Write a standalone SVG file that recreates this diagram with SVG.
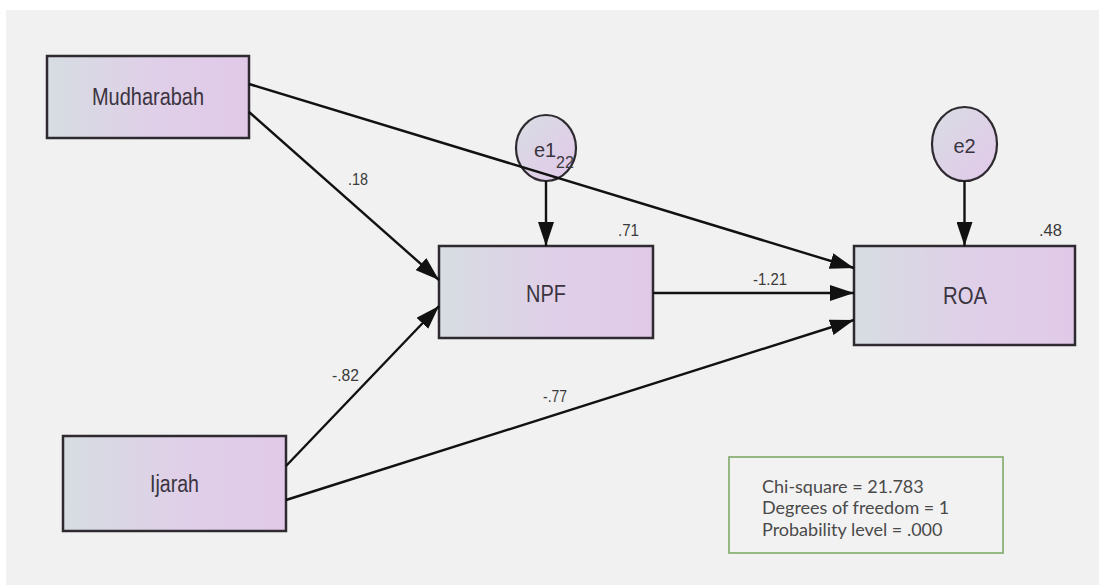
<svg xmlns="http://www.w3.org/2000/svg" width="1099" height="585" viewBox="0 0 1099 585">
  <style>
    .box { stroke: #2e2a30; stroke-width: 2.5; }
    .oval { stroke: #2e2a30; stroke-width: 2.2; }
    .lbl { font-family: "Liberation Sans", Arial, sans-serif; font-size: 23px; fill: #3a3440; }
    .coef { font-family: "Liberation Sans", Arial, sans-serif; font-size: 16px; fill: #3a3a3a; }
    .err { font-family: "Liberation Sans", Arial, sans-serif; font-size: 20px; fill: #3a3440; }
    .stat { font-family: Lato, "Open Sans", sans-serif; font-size: 18px; fill: #4a4a4a; }
    .edge { stroke: #111; stroke-width: 2.4; fill: none; marker-end: url(#head); }
  </style>
  <defs>
    <linearGradient id="boxFill" x1="0" y1="0" x2="1" y2="0">
      <stop offset="0" stop-color="#d6dde2"/>
      <stop offset="0.55" stop-color="#e0cfe8"/>
      <stop offset="1" stop-color="#e0c9e8"/>
    </linearGradient>
    <linearGradient id="ovalFill" x1="0" y1="0" x2="1" y2="1">
      <stop offset="0" stop-color="#d8dde3"/>
      <stop offset="1" stop-color="#e2c8ea"/>
    </linearGradient>
    <marker id="head" markerUnits="userSpaceOnUse" markerWidth="24" markerHeight="16" refX="24" refY="8" orient="auto">
      <path d="M0,0 L24,8 L0,16 z" fill="#111"/>
    </marker>
  </defs>

  <!-- canvas -->
  <rect x="6" y="10" width="1093" height="575" fill="#f1f1f1"/>

  <!-- observed variables -->
  <g id="mudharabah">
    <rect class="box" x="47" y="56" width="202" height="82" fill="url(#boxFill)"/>
    <text class="lbl" x="148" y="105" text-anchor="middle" textLength="112" lengthAdjust="spacingAndGlyphs">Mudharabah</text>
  </g>
  <g id="ijarah">
    <rect class="box" x="63" y="436" width="223" height="95" fill="url(#boxFill)"/>
    <text class="lbl" x="174.5" y="492" text-anchor="middle" textLength="49" lengthAdjust="spacingAndGlyphs">Ijarah</text>
  </g>
  <g id="npf">
    <rect class="box" x="439" y="246" width="214" height="92" fill="url(#boxFill)"/>
    <text class="lbl" x="546" y="302" text-anchor="middle" textLength="40" lengthAdjust="spacingAndGlyphs">NPF</text>
    <text class="coef" x="618" y="236" textLength="21" lengthAdjust="spacingAndGlyphs">.71</text>
  </g>
  <g id="roa">
    <rect class="box" x="854" y="246" width="221" height="99" fill="url(#boxFill)"/>
    <text class="lbl" x="965" y="304" text-anchor="middle" textLength="44" lengthAdjust="spacingAndGlyphs">ROA</text>
    <text class="coef" x="1039" y="236" textLength="23" lengthAdjust="spacingAndGlyphs">.48</text>
  </g>

  <!-- error terms -->
  <g id="e1">
    <ellipse class="oval" cx="546" cy="148" rx="30" ry="33" fill="url(#ovalFill)"/>
    <text class="err" x="534" y="157">e1</text>
    <text class="coef" x="556" y="168" font-size="15" fill="#5a4a66">22</text>
  </g>
  <g id="e2">
    <ellipse class="oval" cx="964.5" cy="144" rx="32.5" ry="37" fill="url(#ovalFill)"/>
    <text class="err" x="964.5" y="153" text-anchor="middle">e2</text>
  </g>

  <!-- fit statistics -->
  <g id="fit">
    <rect x="729" y="457" width="274" height="96" fill="#f2f2f3" stroke="#7fa96a" stroke-width="1.6"/>
    <text class="stat" x="762" y="493">Chi-square = 21.783</text>
    <text class="stat" x="762" y="514">Degrees of freedom = 1</text>
    <text class="stat" x="762" y="536">Probability level = .000</text>
  </g>

  <!-- paths -->
  <g id="connectors">
    <line class="edge" x1="249" y1="84" x2="854" y2="268"/>
    <line class="edge" x1="249" y1="112" x2="439" y2="280"/>
    <line class="edge" x1="653" y1="293" x2="854" y2="293"/>
    <line class="edge" x1="286" y1="466" x2="439" y2="306"/>
    <line class="edge" x1="286" y1="500" x2="854" y2="320"/>
    <line class="edge" x1="546" y1="181" x2="546" y2="246"/>
    <line class="edge" x1="964.5" y1="181" x2="964.5" y2="246"/>
    <text class="coef" x="348" y="185" textLength="20" lengthAdjust="spacingAndGlyphs">.18</text>
    <text class="coef" x="753" y="285" textLength="34" lengthAdjust="spacingAndGlyphs">-1.21</text>
    <text class="coef" x="332" y="381" textLength="27" lengthAdjust="spacingAndGlyphs">-.82</text>
    <text class="coef" x="543" y="402" textLength="24" lengthAdjust="spacingAndGlyphs">-.77</text>
  </g>
</svg>
